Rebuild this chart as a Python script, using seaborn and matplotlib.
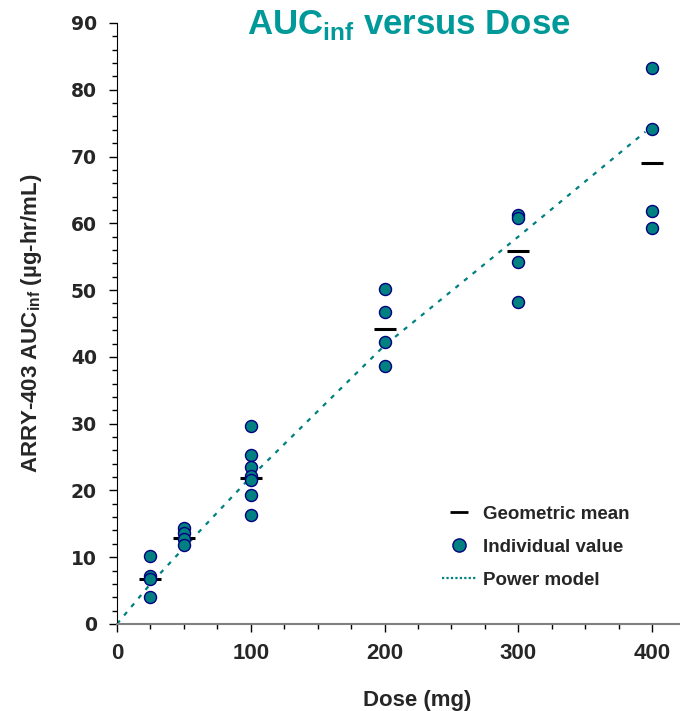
import matplotlib
matplotlib.use("Agg")
import matplotlib.pyplot as plt
from matplotlib.ticker import MultipleLocator
from matplotlib.lines import Line2D
import seaborn as sns
import pandas as pd

# individual values
dose_25 = [10.2, 7.2, 6.7, 4.0]
dose_50 = [14.4, 13.6, 12.7, 11.8]
dose_100 = [29.6, 25.3, 23.5, 22.2, 21.6, 19.3, 16.3]
dose_200 = [50.2, 46.7, 42.2, 38.7]
dose_300 = [61.3, 60.8, 54.2, 48.2]
dose_400 = [83.2, 74.1, 61.9, 59.3]

mean_doses = [25, 50, 100, 200, 300, 400]
geo_means = [6.7, 12.9, 21.8, 44.2, 55.9, 69.0]

# power model curve
model_dose = [0, 25, 50, 100, 200, 300, 395]
model_auc = [0, 6.0, 11.4, 22.0, 41.7, 58.0, 73.7]

TEAL = '#008080'
TITLE_TEAL = '#009999'

groups = {25: dose_25, 50: dose_50, 100: dose_100, 200: dose_200, 300: dose_300, 400: dose_400}
indiv = pd.DataFrame([(d, v) for d, vals in groups.items() for v in vals], columns=['dose', 'auc'])
means = pd.DataFrame({'dose': mean_doses, 'auc': geo_means})
model = pd.DataFrame({'dose': model_dose, 'auc': model_auc})

sns.set_style('white')
plt.rcParams['font.family'] = ['Liberation Sans', 'DejaVu Sans']
plt.rcParams['font.weight'] = 'bold'
plt.rcParams['mathtext.fontset'] = 'custom'
plt.rcParams['mathtext.rm'] = 'Liberation Sans:bold'
plt.rcParams['mathtext.bf'] = 'Liberation Sans:bold'

fig = plt.figure(figsize=(6.85, 7.11), dpi=100)
ax = fig.add_axes([0.1708, 0.1224, 0.8202, 0.8453])

sns.lineplot(data=model, x='dose', y='auc', ax=ax, color=TEAL, lw=1.6,
             linestyle=(0, (2, 3)), sort=False)
sns.scatterplot(data=means, x='dose', y='auc', ax=ax, marker='_', s=250,
                color='black', linewidth=2.2, zorder=3)
sns.scatterplot(data=indiv, x='dose', y='auc', ax=ax, s=75, color=TEAL,
                edgecolor='#000080', linewidth=1, zorder=4)

ax.set_xlim(0, 420)
ax.set_ylim(0, 90)
ax.xaxis.set_major_locator(MultipleLocator(100))
ax.xaxis.set_minor_locator(MultipleLocator(25))
ax.yaxis.set_major_locator(MultipleLocator(10))
ax.yaxis.set_minor_locator(MultipleLocator(2))
ax.tick_params(axis='both', which='major', direction='out', length=5.5, width=1, color='black')
ax.tick_params(axis='both', which='minor', direction='out', length=3.5, width=1, color='black')
ax.tick_params(axis='x', which='both', bottom=True, pad=8)
ax.tick_params(axis='y', which='both', left=True, pad=9)
for lab in ax.get_xticklabels():
    lab.set_fontsize(16)
    lab.set_fontweight('bold')
for lab in ax.get_yticklabels():
    lab.set_fontsize(13.5)
    lab.set_fontweight('bold')
    lab.set_family('DejaVu Sans')

sns.despine(ax=ax)
ax.spines['left'].set_color('black')
ax.spines['bottom'].set_color('#808080')
ax.spines['bottom'].set_linewidth(1.5)

ax.set_xlabel('Dose (mg)', fontsize=16, fontweight='bold')
ax.xaxis.set_label_coords(0.535, -0.11)
ax.set_ylabel(r'ARRY-403 AUC$_{\mathrm{inf}}$ (µg-hr/mL)', fontsize=16, fontweight='bold')
ax.yaxis.set_label_coords(-0.13, 0.5)
fig.text(0.597, 0.965, r'AUC$_{\mathrm{inf}}$ versus Dose', ha='center', va='center',
         fontsize=25, fontweight='bold', color=TITLE_TEAL)

handles = [
    Line2D([], [], color='black', marker='_', linestyle='none', markersize=13, mew=2),
    Line2D([], [], color=TEAL, marker='o', markeredgecolor='#000080', linestyle='none', markersize=9.5),
    Line2D([], [], color=TEAL, linestyle=(0, (1, 1)), lw=1.6),
]
ax.legend(handles, ['Geometric mean', 'Individual value', 'Power model'],
          loc='center left', bbox_to_anchor=(0.549, 0.128), frameon=False,
          prop={'size': 13.5, 'weight': 'bold'}, handlelength=1.8, handletextpad=0.35,
          labelspacing=0.85)

fig.savefig('out.png', dpi=100)
